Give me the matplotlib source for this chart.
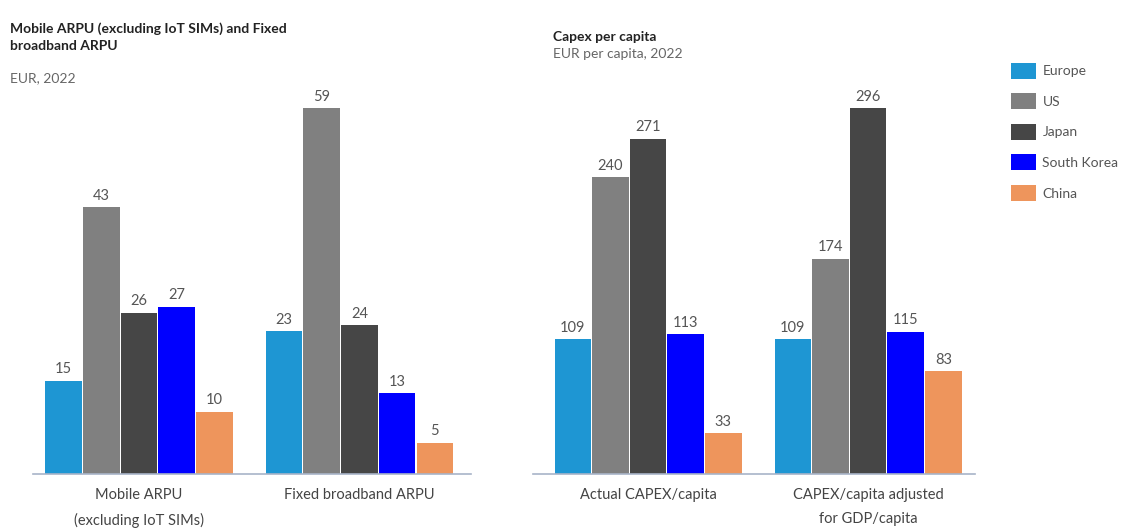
import matplotlib
matplotlib.use("Agg")
import numpy as np
from matplotlib import pyplot as plt
from matplotlib.patches import Patch

plt.rcParams['font.family'] = ['Lato', 'DejaVu Sans']

regions = ['Europe', 'US', 'Japan', 'South Korea', 'China']
colors = ['#1e96d3', '#808080', '#464646', '#0000ff', '#ee955c']

arpu_cats = ['Mobile ARPU\n(excluding IoT SIMs)', 'Fixed broadband ARPU']
arpu_vals = [[15, 23], [43, 59], [26, 24], [27, 13], [10, 5]]

capex_cats = ['Actual CAPEX/capita', 'CAPEX/capita adjusted\nfor GDP/capita']
capex_vals = [[109, 109], [240, 174], [271, 296], [113, 115], [33, 83]]

W, H = 1148, 531
fig = plt.figure(figsize=(W / 100, H / 100), dpi=100)

def panel(rect, cats, vals, ylim, xlim):
    ax = fig.add_axes(rect)
    x = np.arange(len(cats))
    w = 0.171
    for i, (reg, col) in enumerate(zip(regions, colors)):
        pos = x + (i - 2) * w
        bars = ax.bar(pos, vals[i], w * 0.97, color=col, label=reg)
        for b, v in zip(bars, vals[i]):
            ax.text(b.get_x() + b.get_width() / 2, v + ylim * 0.012, str(v),
                    ha='center', va='bottom', fontsize=10.5, color='#555555')
    ax.set_ylim(0, ylim)
    ax.set_xlim(*xlim)
    ax.set_xticks(x)
    ax.set_xticklabels(cats, fontsize=10.5, color='#444444', linespacing=1.9)
    ax.tick_params(axis='x', length=0, pad=10)
    ax.set_yticks([])
    for s in ['top', 'right', 'left']:
        ax.spines[s].set_visible(False)
    ax.spines['bottom'].set_color('#a8b4c8')
    ax.spines['bottom'].set_linewidth(1.2)
    return ax

bottom = 57 / H
height = 374 / H
panel([33 / W, bottom, 438 / W, height], arpu_cats, arpu_vals,
      59 * 374 / 366, (-0.481, 1.506))
panel([533 / W, bottom, 442 / W, height], capex_cats, capex_vals,
      296 * 374 / 366, (-0.523, 1.486))

fig.text(10 / W, 1 - 22 / H, 'Mobile ARPU (excluding IoT SIMs) and Fixed\nbroadband ARPU',
         fontsize=10, fontweight='bold', color='#222222', va='top', linespacing=1.5)
fig.text(10 / W, 1 - 72 / H, 'EUR, 2022', fontsize=10, color='#666666', va='top')
fig.text(553 / W, 1 - 31 / H, 'Capex per capita', fontsize=10, fontweight='bold',
         color='#222222', va='top')
fig.text(553 / W, 1 - 48 / H, 'EUR per capita, 2022', fontsize=10, color='#666666', va='top')

handles = [Patch(facecolor=c, label=r) for r, c in zip(regions, colors)]
fig.legend(handles=handles, loc='upper left', bbox_to_anchor=(998 / W, 1 - 50 / H),
           frameon=False, fontsize=10, handlelength=1.8, handleheight=1.4,
           labelspacing=1.05, handletextpad=0.5, labelcolor='#555555')

fig.savefig('out.png', dpi=100)
